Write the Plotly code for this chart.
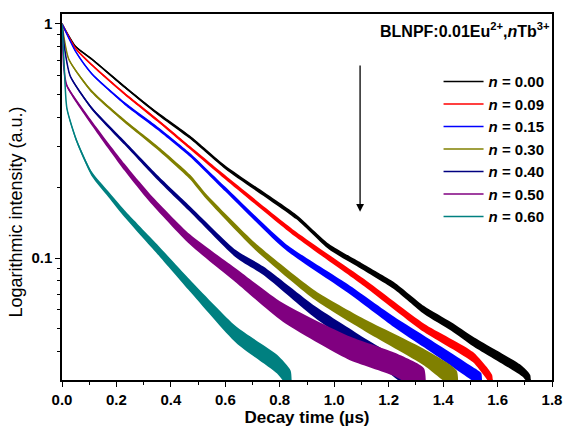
import plotly.graph_objects as go

labels = ["0.00", "0.09", "0.15", "0.30", "0.40", "0.50", "0.60"]
colors = ["#000000", "#ff0000", "#0000ff", "#808000", "#000080", "#800080", "#008080"]

t_000 = [0, 0.05, 0.11, 0.23, 0.35, 0.47, 0.60, 0.86, 0.98, 1.10, 1.22, 1.33, 1.43, 1.51, 1.69, 1.72]
i_000 = [1, 0.80, 0.706, 0.538, 0.415, 0.328, 0.244, 0.150, 0.112, 0.0925, 0.0762, 0.060, 0.051, 0.044, 0.0329, 0.0301]
s_000 = [0, 0.003, 0.004, 0.005, 0.006, 0.007, 0.008, 0.010, 0.012, 0.013, 0.015, 0.017, 0.018, 0.020, 0.022, 0.022]

t_009 = [0, 0.05, 0.11, 0.23, 0.35, 0.47, 0.60, 0.86, 1.11, 1.33, 1.51, 1.58]
i_009 = [1, 0.785, 0.667, 0.503, 0.388, 0.296, 0.221, 0.126, 0.0785, 0.0503, 0.0377, 0.0301]
s_009 = [0, 0.003, 0.004, 0.005, 0.006, 0.007, 0.009, 0.012, 0.015, 0.018, 0.022, 0.022]

t_015 = [0, 0.05, 0.11, 0.23, 0.35, 0.47, 0.60, 0.82, 1.05, 1.22, 1.33, 1.51, 1.54]
i_015 = [1, 0.762, 0.611, 0.457, 0.359, 0.276, 0.197, 0.112, 0.0741, 0.0533, 0.044, 0.0319, 0.0301]
s_015 = [0, 0.003, 0.004, 0.006, 0.007, 0.008, 0.010, 0.013, 0.018, 0.022, 0.025, 0.030, 0.030]

t_030 = [0, 0.025, 0.11, 0.23, 0.35, 0.47, 0.53, 0.71, 0.93, 1.11, 1.33, 1.45]
i_030 = [1, 0.706, 0.513, 0.384, 0.296, 0.222, 0.183, 0.112, 0.0692, 0.0518, 0.0377, 0.0301]
s_030 = [0, 0.004, 0.006, 0.007, 0.008, 0.010, 0.011, 0.015, 0.020, 0.025, 0.035, 0.040]

t_040 = [0, 0.01, 0.03, 0.11, 0.23, 0.35, 0.47, 0.64, 0.74, 0.93, 1.09, 1.29]
i_040 = [1, 0.778, 0.599, 0.435, 0.310, 0.221, 0.162, 0.104, 0.0882, 0.0587, 0.044, 0.0301]
s_040 = [0, 0.004, 0.005, 0.006, 0.008, 0.010, 0.012, 0.016, 0.018, 0.025, 0.030, 0.040]

t_050 = [0, 0.007, 0.018, 0.11, 0.23, 0.32, 0.47, 0.64, 0.81, 1.05, 1.22, 1.33]
i_050 = [1, 0.641, 0.544, 0.376, 0.244, 0.182, 0.120, 0.084, 0.0587, 0.0415, 0.0352, 0.0301]
s_050 = [0, 0.005, 0.006, 0.010, 0.015, 0.018, 0.022, 0.030, 0.040, 0.050, 0.050, 0.050]

t_060 = [0, 0.007, 0.018, 0.054, 0.11, 0.17, 0.23, 0.35, 0.47, 0.64, 0.79, 0.84]
i_060 = [1, 0.706, 0.435, 0.316, 0.228, 0.1875, 0.1545, 0.109, 0.0762, 0.047, 0.0352, 0.0301]
s_060 = [0, 0.004, 0.006, 0.008, 0.010, 0.012, 0.015, 0.020, 0.025, 0.035, 0.040, 0.040]

series = [
    (t_000, i_000, s_000), (t_009, i_009, s_009), (t_015, i_015, s_015),
    (t_030, i_030, s_030), (t_040, i_040, s_040), (t_050, i_050, s_050),
    (t_060, i_060, s_060),
]

x_ticks = [0.0, 0.2, 0.4, 0.6, 0.8, 1.0, 1.2, 1.4, 1.6, 1.8]
y_ticks = [0.1, 1]

FONT = "Liberation Sans, Arial, sans-serif"

fig = go.Figure()
for (t, y, s), lab, col in zip(series, labels, colors):
    upper = [v * 10 ** d for v, d in zip(y, s)]
    lower = [v / 10 ** d for v, d in zip(y, s)]
    fig.add_trace(go.Scatter(
        x=t + t[::-1], y=upper + lower[::-1], fill="toself", fillcolor=col,
        line=dict(width=0, color=col, shape="spline", smoothing=0.6), mode="lines",
        showlegend=False, hoverinfo="skip"))
    fig.add_trace(go.Scatter(
        x=t, y=y, mode="lines", line=dict(color=col, width=1.5, shape="spline", smoothing=0.6),
        name="<b><i>n</i> = " + lab + "</b>"))

fig.update_layout(
    width=573, height=432,
    margin=dict(l=62, r=11, t=14, b=46),
    paper_bgcolor="white", plot_bgcolor="white",
    font=dict(family=FONT, color="black"),
    legend=dict(x=0.995, y=0.86, xanchor="right", yanchor="top",
                font=dict(size=15, family=FONT, color="black"),
                bgcolor="rgba(0,0,0,0)", itemwidth=40, tracegroupgap=0),
    xaxis=dict(range=[0, 1.8], tickvals=x_ticks, ticktext=[f"<b>{v:.1f}</b>" for v in x_ticks],
               ticks="outside", ticklen=5, tickwidth=1.3, tickcolor="black",
               minor=dict(ticks="outside", ticklen=3, tickwidth=1.3, tickcolor="black", dtick=0.1, tick0=0),
               showline=True, linecolor="black", linewidth=1.5, mirror=True,
               showgrid=False, zeroline=False,
               tickfont=dict(size=15, family=FONT),
               title=dict(text="<b>Decay time (µs)</b>", font=dict(size=17, family=FONT), standoff=1)),
    yaxis=dict(type="log", range=[-1.521, 0.042], tickvals=y_ticks, ticktext=["<b>0.1</b>", "<b>1</b>"],
               ticks="outside", ticklen=5, tickwidth=1.3, tickcolor="black",
               minor=dict(ticks="outside", ticklen=3, tickwidth=1.3, tickcolor="black",
                          tickvals=[0.03, 0.04, 0.05, 0.06, 0.07, 0.08, 0.09, 0.2, 0.3, 0.4, 0.5, 0.6, 0.7, 0.8, 0.9]),
               showline=True, linecolor="black", linewidth=1.5, mirror=True,
               showgrid=False, zeroline=False,
               tickfont=dict(size=15, family=FONT)),
)

fig.add_annotation(text="Logarithmic intensity (a.u.)", xref="paper", yref="paper",
                   x=-0.094, y=0.46, xanchor="center", yanchor="middle", textangle=-90,
                   showarrow=False, font=dict(size=18, family=FONT, color="black"))

fig.add_annotation(text="<b>BLNPF:0.01Eu<sup>2+</sup>,<i>n</i>Tb<sup>3+</sup></b>",
                   xref="paper", yref="paper", x=1.0, y=0.99, xanchor="right", yanchor="top",
                   showarrow=False, font=dict(size=16, family=FONT, color="black"))

fig.add_annotation(x=1.095, y=-0.803, ax=1.095, ay=-0.172, xref="x", yref="y", axref="x", ayref="y",
                   text="", showarrow=True, arrowhead=2, arrowsize=1.2, arrowwidth=1.3, arrowcolor="black")

fig.write_html("out.html")
